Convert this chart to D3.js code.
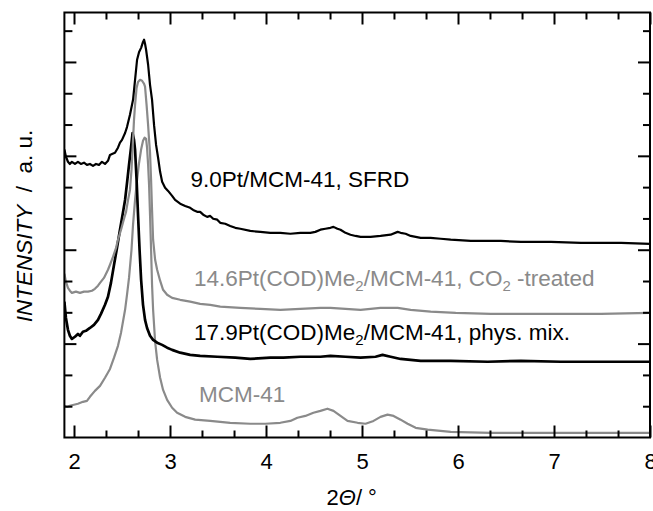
<!DOCTYPE html>
<html>
<head>
<meta charset="utf-8">
<script src="https://cdn.jsdelivr.net/npm/d3@7"></script>
<style>
  body { margin: 0; background: #fff; }
  text { font-family: "Liberation Sans", Arial, sans-serif; }
</style>
</head>
<body>
<div id="chart"></div>
<script>
// Plot size
const width = 653;
const height = 511;
const gray = "#8a8a8a";

// Axis ticks
const xMajor = [2, 3, 4, 5, 6, 7, 8];
const xMinor = [2.333, 2.667, 3.333, 3.667, 4.333, 4.667, 5.333, 5.667, 6.333, 6.667, 7.333, 7.667];
const yMajor = [3, 6, 9, 12];
const yMinor = [1, 2, 4, 5, 7, 8, 10, 11, 13];

// 9.0Pt/MCM-41, SFRD  [2theta, intensity]
const sfrd = [[1.90,9.20],[1.916,8.97],[1.937,8.81],[1.957,8.74],[1.978,8.81],[2.010,8.74],[2.041,8.81],[2.072,8.74],[2.104,8.78],[2.135,8.71],[2.166,8.74],[2.198,8.68],[2.229,8.74],[2.260,8.71],[2.291,8.81],[2.323,8.74],[2.354,8.84],[2.375,9.03],[2.396,9.06],[2.427,9.10],[2.458,9.26],[2.479,9.42],[2.500,9.51],[2.532,9.73],[2.552,9.92],[2.583,10.31],[2.615,10.79],[2.636,11.43],[2.657,12.07],[2.678,12.32],[2.699,12.45],[2.719,12.64],[2.730,12.71],[2.740,12.58],[2.751,12.39],[2.772,11.91],[2.792,11.27],[2.813,10.79],[2.834,9.98],[2.855,9.35],[2.876,8.94],[2.897,8.49],[2.918,8.17],[2.949,7.98],[2.980,7.88],[3.022,7.72],[3.053,7.59],[3.106,7.47],[3.158,7.40],[3.210,7.34],[3.241,7.27],[3.283,7.21],[3.314,7.21],[3.346,7.12],[3.387,7.05],[3.419,7.08],[3.450,6.99],[3.492,6.96],[3.523,6.86],[3.575,6.83],[3.627,6.76],[3.680,6.70],[3.732,6.67],[3.836,6.60],[3.941,6.57],[4.045,6.54],[4.149,6.54],[4.254,6.51],[4.358,6.54],[4.462,6.54],[4.514,6.57],[4.567,6.64],[4.619,6.67],[4.671,6.70],[4.703,6.73],[4.744,6.67],[4.776,6.64],[4.828,6.54],[4.880,6.48],[4.933,6.44],[4.985,6.41],[5.089,6.41],[5.193,6.44],[5.298,6.48],[5.371,6.57],[5.402,6.54],[5.454,6.51],[5.507,6.44],[5.611,6.38],[5.715,6.38],[5.820,6.35],[5.924,6.32],[6.133,6.28],[6.446,6.28],[6.655,6.25],[6.968,6.25],[7.281,6.22],[7.490,6.22],[7.699,6.22],[8.0,6.19]];

// 14.6Pt(COD)Me2/MCM-41, CO2-treated
const co2 = [[1.90,5.23],[1.916,4.98],[1.937,4.78],[1.957,4.69],[1.978,4.62],[2.020,4.66],[2.062,4.62],[2.104,4.66],[2.145,4.66],[2.187,4.69],[2.218,4.75],[2.250,4.85],[2.271,4.94],[2.312,5.10],[2.354,5.36],[2.375,5.52],[2.406,5.77],[2.438,6.06],[2.458,6.32],[2.490,6.64],[2.521,6.99],[2.542,7.21],[2.563,7.59],[2.583,7.91],[2.599,8.55],[2.615,9.51],[2.625,10.15],[2.636,10.63],[2.652,11.17],[2.667,11.36],[2.688,11.43],[2.709,11.40],[2.730,11.30],[2.740,11.21],[2.756,10.63],[2.772,9.98],[2.782,9.51],[2.792,9.10],[2.803,8.23],[2.813,7.27],[2.824,6.32],[2.845,5.68],[2.866,5.36],[2.897,5.01],[2.928,4.72],[2.970,4.56],[3.022,4.46],[3.106,4.40],[3.210,4.34],[3.314,4.27],[3.419,4.24],[3.523,4.18],[3.732,4.14],[3.941,4.11],[4.149,4.08],[4.358,4.11],[4.567,4.14],[4.671,4.14],[4.828,4.11],[4.985,4.08],[5.193,4.14],[5.371,4.14],[5.507,4.08],[5.715,4.02],[5.976,3.98],[6.341,3.95],[6.655,3.95],[7.072,3.95],[7.490,3.95],[8.0,3.98]];

// 17.9Pt(COD)Me2/MCM-41, phys. mix.
const physMix = [[1.90,4.34],[1.916,3.82],[1.937,3.44],[1.957,3.25],[1.978,3.15],[2.010,3.22],[2.041,3.31],[2.062,3.25],[2.093,3.38],[2.124,3.41],[2.166,3.50],[2.208,3.60],[2.250,3.76],[2.281,3.95],[2.323,4.24],[2.354,4.50],[2.385,4.94],[2.417,5.52],[2.448,6.06],[2.479,6.64],[2.511,7.21],[2.532,7.59],[2.552,8.13],[2.573,8.71],[2.594,9.26],[2.610,9.73],[2.625,9.51],[2.636,9.20],[2.652,8.23],[2.667,7.11],[2.683,6.00],[2.699,5.04],[2.719,4.24],[2.740,3.76],[2.761,3.50],[2.792,3.25],[2.824,3.12],[2.866,3.03],[2.918,2.96],[2.970,2.87],[3.022,2.80],[3.106,2.71],[3.210,2.64],[3.314,2.61],[3.492,2.58],[3.680,2.55],[3.836,2.51],[4.045,2.55],[4.181,2.55],[4.358,2.58],[4.567,2.58],[4.671,2.61],[4.828,2.58],[4.985,2.55],[5.141,2.58],[5.214,2.64],[5.298,2.58],[5.402,2.51],[5.611,2.45],[5.924,2.45],[6.310,2.42],[6.655,2.45],[7.072,2.42],[7.490,2.42],[8.0,2.42]];

// MCM-41
const mcm = [[1.90,1.01],[1.926,0.98],[1.957,1.01],[1.989,1.04],[2.041,1.08],[2.093,1.14],[2.135,1.17],[2.166,1.30],[2.218,1.49],[2.271,1.65],[2.323,1.91],[2.375,2.19],[2.417,2.55],[2.458,2.93],[2.490,3.35],[2.532,4.08],[2.552,4.56],[2.573,5.10],[2.599,6.00],[2.615,6.80],[2.636,7.59],[2.657,8.23],[2.678,8.78],[2.699,9.20],[2.719,9.48],[2.735,9.58],[2.751,9.54],[2.761,9.26],[2.772,8.71],[2.782,8.07],[2.792,7.11],[2.803,6.00],[2.813,4.88],[2.824,4.08],[2.845,3.06],[2.866,2.48],[2.897,1.91],[2.928,1.52],[2.970,1.20],[3.022,0.95],[3.074,0.79],[3.158,0.66],[3.262,0.57],[3.419,0.53],[3.627,0.47],[3.836,0.44],[3.993,0.44],[4.149,0.47],[4.254,0.53],[4.327,0.63],[4.410,0.69],[4.494,0.79],[4.567,0.85],[4.640,0.92],[4.703,0.85],[4.776,0.69],[4.849,0.53],[4.954,0.47],[5.037,0.44],[5.120,0.53],[5.193,0.66],[5.266,0.73],[5.329,0.69],[5.402,0.57],[5.475,0.44],[5.559,0.31],[5.684,0.25],[5.924,0.18],[6.341,0.15],[6.968,0.15],[7.490,0.15],[8.0,0.15]];

const svg = d3.select("#chart").append("svg")
    .attr("width", width)
    .attr("height", height);

// Scales
const x = d3.scaleLinear().domain([1.9, 8]).range([64.4, 650]);
const y = d3.scaleLinear().domain([0, 13.58]).range([437.5, 12.5]);

const yBottom = y(0), yTop = y(13.58), xLeft = x(1.9), xRight = x(8);

svg.append("defs").append("clipPath")
    .attr("id", "clip")
  .append("rect")
    .attr("x", xLeft).attr("y", yTop)
    .attr("width", xRight - xLeft).attr("height", yBottom - yTop);

const line = d3.line()
    .x(d => x(d[0]))
    .y(d => y(d[1]));

const plot = svg.append("g").attr("clip-path", "url(#clip)");

const series = [
    { data: mcm, color: gray, w: 2.2 },
    { data: physMix, color: "#000", w: 2.7 },
    { data: co2, color: gray, w: 2.2 },
    { data: sfrd, color: "#000", w: 2.2 }
];

plot.selectAll("path")
    .data(series)
    .enter().append("path")
    .attr("d", d => line(d.data))
    .attr("fill", "none")
    .attr("stroke", d => d.color)
    .attr("stroke-width", d => d.w)
    .attr("stroke-linejoin", "round");

// Axes: ticks point inward
function tickAxis(axis, values, size, labels) {
    return axis.tickValues(values).tickSize(-size).tickPadding(16)
        .tickFormat(labels ? d3.format("d") : "");
}

function styleAxis(g) {
    g.select(".domain").remove();
    g.selectAll("line").attr("stroke", "#000").attr("stroke-width", 2);
    g.selectAll("text").attr("font-size", 22).attr("fill", "#000")
        .style("font-family", "'Liberation Sans', Arial, sans-serif");
}

svg.append("g").attr("transform", `translate(0,${yBottom})`)
    .call(tickAxis(d3.axisBottom(x), xMajor, 12, true)).call(styleAxis);
svg.append("g").attr("transform", `translate(0,${yBottom})`)
    .call(tickAxis(d3.axisBottom(x), xMinor, 7, false)).call(styleAxis);
svg.append("g").attr("transform", `translate(0,${yTop})`)
    .call(tickAxis(d3.axisTop(x), xMajor, 12, false)).call(styleAxis);
svg.append("g").attr("transform", `translate(0,${yTop})`)
    .call(tickAxis(d3.axisTop(x), xMinor, 7, false)).call(styleAxis);
svg.append("g").attr("transform", `translate(${xLeft},0)`)
    .call(tickAxis(d3.axisLeft(y), yMajor, 12, false)).call(styleAxis);
svg.append("g").attr("transform", `translate(${xLeft},0)`)
    .call(tickAxis(d3.axisLeft(y), yMinor, 8, false)).call(styleAxis);
svg.append("g").attr("transform", `translate(${xRight},0)`)
    .call(tickAxis(d3.axisRight(y), yMajor, 12, false)).call(styleAxis);
svg.append("g").attr("transform", `translate(${xRight},0)`)
    .call(tickAxis(d3.axisRight(y), yMinor, 7, false)).call(styleAxis);

// Frame
svg.append("rect")
    .attr("x", xLeft).attr("y", yTop)
    .attr("width", xRight - xLeft).attr("height", yBottom - yTop)
    .attr("fill", "none")
    .attr("stroke", "#000")
    .attr("stroke-width", 2);

// Curve labels
const fs = 22.5;
svg.append("text").attr("x", 190.5).attr("y", 186.5)
    .attr("font-size", fs).attr("fill", "#000")
    .text("9.0Pt/MCM-41, SFRD");

const t2 = svg.append("text").attr("x", 194).attr("y", 286)
    .attr("font-size", fs).attr("fill", gray);
t2.append("tspan").text("14.6Pt(COD)Me");
t2.append("tspan").attr("font-size", 15).attr("dy", 5).text("2");
t2.append("tspan").attr("dy", -5).text("/MCM-41, CO");
t2.append("tspan").attr("font-size", 15).attr("dy", 5).text("2");
t2.append("tspan").attr("dy", -5).text(" -treated");

const t3 = svg.append("text").attr("x", 194).attr("y", 340)
    .attr("font-size", fs).attr("fill", "#000");
t3.append("tspan").text("17.9Pt(COD)Me");
t3.append("tspan").attr("font-size", 15).attr("dy", 5).text("2");
t3.append("tspan").attr("dy", -5).text("/MCM-41, phys. mix.");

svg.append("text").attr("x", 199).attr("y", 401.5)
    .attr("font-size", fs).attr("fill", gray)
    .text("MCM-41");

// Axis titles
const xt = svg.append("text").attr("x", 326.5).attr("y", 505)
    .attr("font-size", 22).attr("fill", "#000");
xt.append("tspan").text("2");
xt.append("tspan").attr("font-style", "italic").text("Θ");
xt.append("tspan").text("/ °");

const yt = svg.append("text")
    .attr("transform", `translate(31.5,${226}) rotate(-90)`)
    .attr("text-anchor", "middle")
    .attr("font-size", 22.5).attr("fill", "#000");
yt.append("tspan").attr("font-style", "italic").text("INTENSITY");
yt.append("tspan").text("  /  a. u.").attr("xml:space", "preserve").style("white-space", "pre");
</script>
</body>
</html>
